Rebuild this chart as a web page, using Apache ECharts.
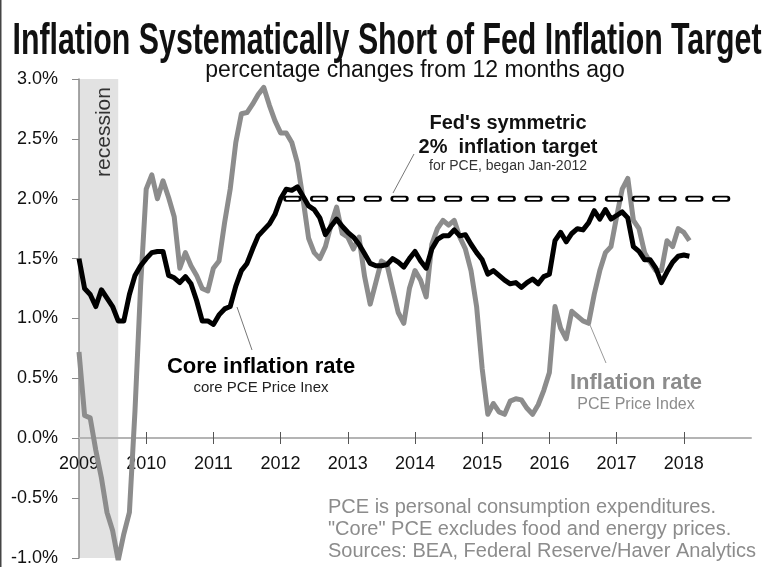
<!DOCTYPE html>
<html>
<head>
<meta charset="utf-8">
<script src="https://cdn.jsdelivr.net/npm/echarts@6/dist/echarts.min.js"></script>
<style>
  html, body { margin: 0; padding: 0; background: #fff; }
  #chart { width: 770px; height: 567px; }
</style>
</head>
<body>
<div id="chart"></div>
<script>
// monthly categories, Jan 2009 .. Jan 2019 (axis runs to 2019)
const months = [];
for (let y = 2009; y <= 2019; y++) {
    for (let m = 1; m <= 12; m++) {
        if (y === 2019 && m > 1) break;
        months.push(y + '-' + String(m).padStart(2, '0'));
    }
}

// core PCE, % y/y, Jan 2009 .. Feb 2018
const coreRate = [
    1.50, 1.25, 1.20, 1.10, 1.24, 1.17, 1.10, 0.98, 0.98, 1.20, 1.36, 1.44,
    1.50, 1.55, 1.56, 1.56, 1.36, 1.34, 1.30, 1.35, 1.29, 1.15, 0.98, 0.98,
    0.95, 1.03, 1.08, 1.10, 1.27, 1.40, 1.46, 1.58, 1.69, 1.74, 1.79, 1.87,
    2.00, 2.08, 2.07, 2.10, 2.02, 1.94, 1.91, 1.84, 1.70, 1.77, 1.83, 1.77,
    1.72, 1.68, 1.62, 1.54, 1.46, 1.44, 1.44, 1.45, 1.50, 1.47, 1.43, 1.50,
    1.56, 1.48, 1.42, 1.58, 1.66, 1.69, 1.69, 1.74, 1.69, 1.70, 1.62, 1.55,
    1.49, 1.37, 1.40, 1.36, 1.32, 1.29, 1.30, 1.26, 1.30, 1.33, 1.29, 1.35,
    1.37, 1.65, 1.72, 1.64, 1.71, 1.75, 1.74, 1.80, 1.90, 1.83, 1.91, 1.83,
    1.86, 1.89, 1.84, 1.60, 1.56, 1.49, 1.49, 1.42, 1.30, 1.39, 1.47, 1.52,
    1.53, 1.52
];

// headline PCE, % y/y
const headlineRate = [
    0.72, 0.19, 0.17, -0.10, -0.33, -0.62, -0.77, -1.02, -0.80, -0.62, 0.23, 1.27,
    2.08, 2.20, 2.00, 2.15, 2.01, 1.85, 1.42, 1.55, 1.44, 1.36, 1.25, 1.23,
    1.42, 1.48, 1.80, 2.08, 2.47, 2.71, 2.72, 2.79, 2.87, 2.93, 2.78, 2.65,
    2.55, 2.55, 2.47, 2.30, 2.00, 1.67, 1.55, 1.50, 1.60, 1.78, 1.93, 1.71,
    1.68, 1.58, 1.68, 1.35, 1.12, 1.30, 1.48, 1.45, 1.25, 1.05, 0.96, 1.25,
    1.40, 1.32, 1.18, 1.62, 1.75, 1.82, 1.78, 1.82, 1.68, 1.58, 1.40, 1.10,
    0.58, 0.20, 0.29, 0.22, 0.20, 0.31, 0.33, 0.32, 0.25, 0.20, 0.28, 0.40,
    0.55, 1.10, 0.92, 0.83, 1.06, 1.02, 0.98, 0.96, 1.20, 1.40, 1.55, 1.60,
    1.85, 2.08, 2.17, 1.82, 1.75, 1.55, 1.47, 1.40, 1.40, 1.65, 1.60, 1.75,
    1.72, 1.65
];

const targetLine = [['2012-02', 2], ['2018-10', 2]];
const recession = ['2009-01', '2009-08'];
const yearTicks = ['2010', '2011', '2012', '2013', '2014', '2015', '2016', '2017', '2018'];

const FONT = '"Liberation Sans", Arial, sans-serif';
const isYear = (v) => v.endsWith('-01');
const isTick = (i, v) => isYear(v) && yearTicks.includes(v.slice(0, 4));

// grid 0 holds the data (-1% .. 3%); grid 1 ends at the 0% line and carries the year axis
const chart = echarts.init(document.getElementById('chart'));
chart.setOption({
    animation: false,
    textStyle: { fontFamily: FONT },
    grid: [
        { left: 79, right: 19, top: 79, bottom: 9, outerBoundsMode: 'none' },
        { left: 79, right: 19, top: 79, bottom: 129, outerBoundsMode: 'none' }
    ],
    xAxis: [
        {
            type: 'category',
            gridIndex: 0,
            data: months,
            boundaryGap: false,
            show: false
        },
        {
            type: 'category',
            gridIndex: 1,
            z: 1,
            data: months,
            boundaryGap: false,
            axisLine: { onZero: false, lineStyle: { color: '#b4b4b4', width: 2 } },
            axisTick: { interval: isTick, length: 6, lineStyle: { color: '#555', width: 1 } },
            axisLabel: {
                interval: (i, v) => isYear(v) && v !== '2019-01',
                formatter: (v) => v.slice(0, 4),
                fontSize: 18,
                color: '#111',
                margin: 17
            },
            splitLine: { show: false }
        },
        {
            type: 'category',
            gridIndex: 1,
            z: 1,
            data: months,
            boundaryGap: false,
            position: 'bottom',
            axisLine: { show: false, onZero: false },
            axisTick: { inside: true, interval: isTick, length: 6, lineStyle: { color: '#555', width: 1 } },
            axisLabel: { show: false },
            splitLine: { show: false }
        }
    ],
    yAxis: [
        {
            type: 'value',
            gridIndex: 0,
            z: 1,
            min: -1,
            max: 3,
            interval: 0.5,
            axisLine: { show: true, onZero: false, lineStyle: { color: '#8a8a8a', width: 1.5 } },
            axisTick: { show: true, length: 7, lineStyle: { color: '#8a8a8a' } },
            axisLabel: {
                formatter: (v) => v.toFixed(1) + '%',
                fontSize: 18,
                color: '#111',
                margin: 21
            },
            splitLine: { show: false }
        },
        {
            type: 'value',
            gridIndex: 1,
            min: 0,
            max: 3,
            show: false
        }
    ],
    series: [
        {
            name: 'recession',
            type: 'line',
            data: [],
            z: 0,
            markArea: {
                silent: true,
                itemStyle: { color: '#e2e2e2' },
                data: [[{ xAxis: recession[0] }, { xAxis: recession[1] }]]
            }
        },
        {
            name: 'Inflation rate',
            type: 'line',
            data: headlineRate,
            showSymbol: false,
            z: 2,
            lineStyle: { color: '#8c8c8c', width: 5, join: 'round' }
        },
        {
            name: 'Core inflation rate',
            type: 'line',
            data: coreRate,
            showSymbol: false,
            z: 3,
            lineStyle: { color: '#000', width: 5, join: 'round' }
        },
        {
            name: 'target outline',
            type: 'line',
            data: targetLine,
            showSymbol: false,
            z: 4,
            lineStyle: { color: '#000', width: 6, type: [12.3, 14.5], cap: 'round' }
        },
        {
            name: 'target inner',
            type: 'line',
            data: targetLine,
            showSymbol: false,
            z: 5,
            lineStyle: { color: '#fff', width: 2.5, type: [10.5, 16.3], dashOffset: -0.9, cap: 'round' }
        }
    ],
    graphic: [
        { type: 'line', shape: { x1: 0.75, y1: 0, x2: 0.75, y2: 567 }, style: { stroke: '#444', lineWidth: 1.5 } },
        {
            type: 'text', x: 387, y: 42, scaleX: 0.689, z: 10,
            style: { text: 'Inflation Systematically Short of Fed Inflation Target', font: 'bold 44px ' + FONT, fill: '#111', align: 'center', verticalAlign: 'middle' }
        },
        {
            type: 'text', x: 415, y: 71, z: 10,
            style: { text: 'percentage changes from 12 months ago', font: '23px ' + FONT, fill: '#111', align: 'center', verticalAlign: 'middle' }
        },
        {
            type: 'text', x: 104, y: 132, rotation: Math.PI / 2, z: 10,
            style: { text: 'recession', font: '21px ' + FONT, fill: '#333', align: 'center', verticalAlign: 'middle' }
        },
        {
            type: 'text', x: 508, y: 123, z: 10,
            style: { text: "Fed's symmetric", font: 'bold 20px ' + FONT, fill: '#111', align: 'center', verticalAlign: 'middle' }
        },
        {
            type: 'text', x: 508, y: 147, z: 10,
            style: { text: '2%  inflation target', font: 'bold 20px ' + FONT, fill: '#111', align: 'center', verticalAlign: 'middle' }
        },
        {
            type: 'text', x: 508, y: 166, z: 10,
            style: { text: 'for PCE, began Jan-2012', font: '14px ' + FONT, fill: '#333', align: 'center', verticalAlign: 'middle' }
        },
        { type: 'line', z: 10, shape: { x1: 414, y1: 154, x2: 393, y2: 193 }, style: { stroke: '#777', lineWidth: 1 } },
        {
            type: 'text', x: 261, y: 367, z: 10,
            style: { text: 'Core inflation rate', font: 'bold 22px ' + FONT, fill: '#000', align: 'center', verticalAlign: 'middle' }
        },
        {
            type: 'text', x: 261, y: 388, z: 10,
            style: { text: 'core PCE Price Inex', font: '15px ' + FONT, fill: '#222', align: 'center', verticalAlign: 'middle' }
        },
        { type: 'line', z: 10, shape: { x1: 237, y1: 307, x2: 252, y2: 350 }, style: { stroke: '#777', lineWidth: 1 } },
        {
            type: 'text', x: 636, y: 383, z: 10,
            style: { text: 'Inflation rate', font: 'bold 22px ' + FONT, fill: '#8c8c8c', align: 'center', verticalAlign: 'middle' }
        },
        {
            type: 'text', x: 636, y: 405, z: 10,
            style: { text: 'PCE Price Index', font: '16px ' + FONT, fill: '#8c8c8c', align: 'center', verticalAlign: 'middle' }
        },
        { type: 'line', z: 10, shape: { x1: 590, y1: 325, x2: 606, y2: 363 }, style: { stroke: '#999', lineWidth: 1 } },
        {
            type: 'text', x: 328, y: 507, z: 10,
            style: { text: 'PCE is personal consumption expenditures.', font: '20px ' + FONT, fill: '#8c8c8c', align: 'left', verticalAlign: 'middle' }
        },
        {
            type: 'text', x: 328, y: 529, z: 10,
            style: { text: '"Core" PCE excludes food and energy prices.', font: '20px ' + FONT, fill: '#8c8c8c', align: 'left', verticalAlign: 'middle' }
        },
        {
            type: 'text', x: 328, y: 551, z: 10,
            style: { text: 'Sources: BEA, Federal Reserve/Haver Analytics', font: '20px ' + FONT, fill: '#8c8c8c', align: 'left', verticalAlign: 'middle' }
        }
    ]
});

window.addEventListener('resize', () => chart.resize());
</script>
</body>
</html>
